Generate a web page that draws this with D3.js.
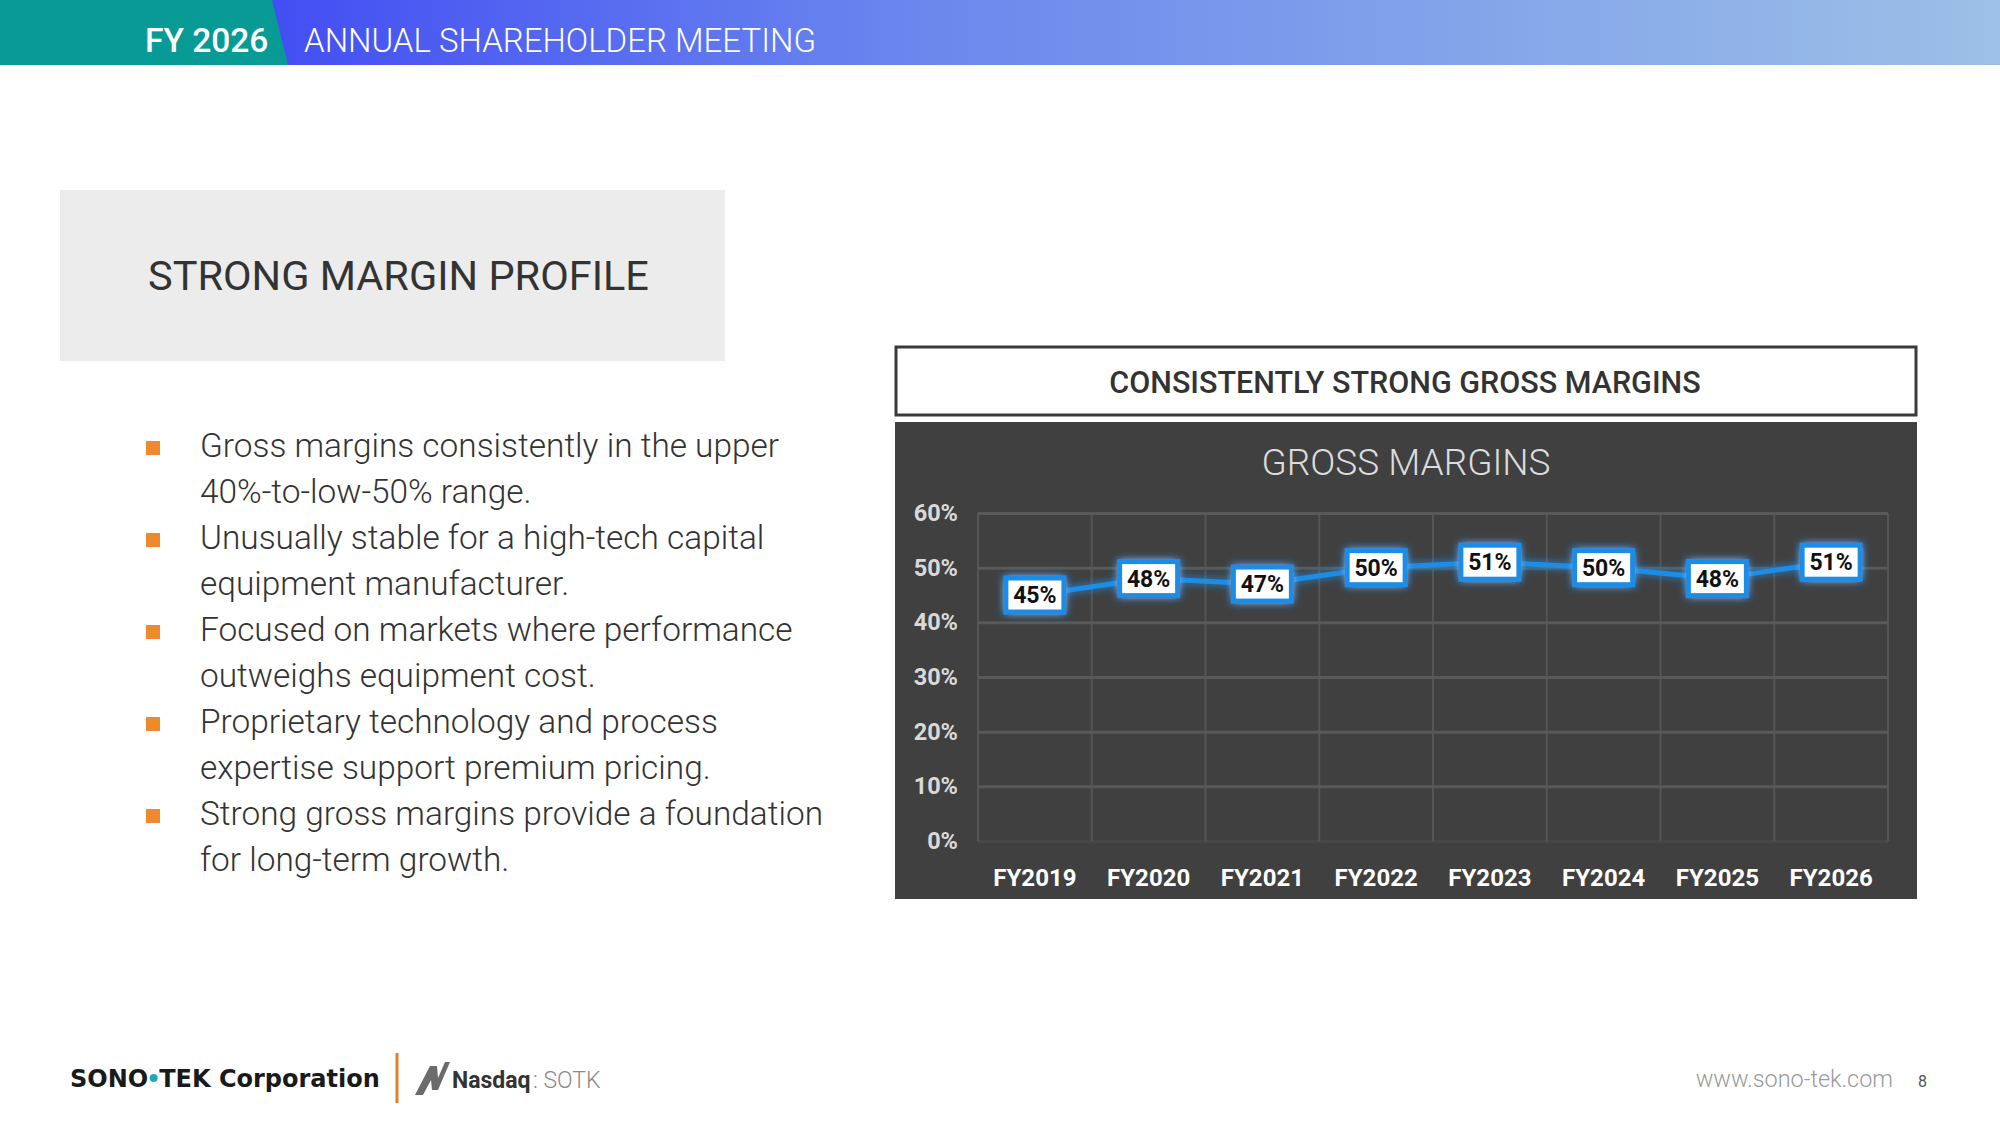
<!DOCTYPE html>
<html>
<head>
<meta charset="utf-8">
<script src="https://cdn.jsdelivr.net/npm/d3@7"></script>
<style>
  html, body { margin: 0; padding: 0; background: #fff; }
  svg { display: block; font-family: Roboto, "Noto Sans", sans-serif; }
</style>
</head>
<body>
<svg id="slide" width="2000" height="1125"></svg>
<script>
"use strict";

// chart data
var categories = ["FY2019", "FY2020", "FY2021", "FY2022", "FY2023", "FY2024", "FY2025", "FY2026"];
var margins = [45, 48, 47, 50, 51, 50, 48, 51];
var yTicks = [0, 10, 20, 30, 40, 50, 60];

// slide text
var bullets = [
  ["Gross margins consistently in the upper", "40%-to-low-50% range."],
  ["Unusually stable for a high-tech capital", "equipment manufacturer."],
  ["Focused on markets where performance", "outweighs equipment cost."],
  ["Proprietary technology and process", "expertise support premium pricing."],
  ["Strong gross margins provide a foundation", "for long-term growth."]
];

var svg = d3.select("#slide");
var defs = svg.append("defs");

// header gradient
var grad = defs.append("linearGradient").attr("id", "hdr").attr("x1", "0").attr("x2", "1");
grad.append("stop").attr("offset", "0").attr("stop-color", "#3236f5");
grad.append("stop").attr("offset", "0.45").attr("stop-color", "#6a86ee");
grad.append("stop").attr("offset", "1").attr("stop-color", "#9cc0e6");

var glow = defs.append("filter").attr("id", "glow")
  .attr("x", "-30%").attr("y", "-60%").attr("width", "160%").attr("height", "220%");
glow.append("feGaussianBlur").attr("in", "SourceGraphic").attr("stdDeviation", 4).attr("result", "b");
var merge = glow.append("feMerge");
merge.append("feMergeNode").attr("in", "b");
merge.append("feMergeNode").attr("in", "SourceGraphic");

// ---- header bar
svg.append("rect").attr("x", 0).attr("y", 0).attr("width", 2000).attr("height", 65).attr("fill", "url(#hdr)");
svg.append("path").attr("d", "M0,0L272,0L288,65L0,65Z").attr("fill", "#089b96");
svg.append("text").attr("x", 145).attr("y", 52).attr("fill", "#fff")
  .attr("font-size", 33.5).attr("font-weight", 500).text("FY 2026");
svg.append("text").attr("x", 304).attr("y", 52).attr("fill", "#fff")
  .attr("font-size", 33).attr("font-weight", 300).text("ANNUAL SHAREHOLDER MEETING");

// ---- left side
svg.append("rect").attr("x", 60).attr("y", 190).attr("width", 665).attr("height", 171).attr("fill", "#ececec");
svg.append("text").attr("x", 148).attr("y", 290).attr("fill", "#333")
  .attr("font-size", 41.5).text("STRONG MARGIN PROFILE");

var bl = svg.append("g").selectAll("g").data(bullets).join("g")
  .attr("transform", function(d, i) { return "translate(0," + (457 + i * 92) + ")"; });
bl.append("rect").attr("x", 146).attr("y", -16).attr("width", 14).attr("height", 14).attr("fill", "#ee8a2c");
bl.selectAll("text").data(function(d) { return d; }).join("text")
  .attr("x", 200).attr("y", function(d, i) { return i * 46; })
  .attr("fill", "#333").attr("font-size", 33.4).attr("font-weight", 300)
  .text(function(d) { return d; });

// ---- chart heading box
svg.append("rect").attr("x", 896).attr("y", 347).attr("width", 1020).attr("height", 68)
  .attr("fill", "#fff").attr("stroke", "#3a3a3a").attr("stroke-width", 3);
svg.append("text").attr("x", 1405).attr("y", 393).attr("text-anchor", "middle").attr("fill", "#333")
  .attr("font-size", 30.5).attr("font-weight", 500).text("CONSISTENTLY STRONG GROSS MARGINS");

// ---- chart panel
svg.append("rect").attr("x", 895).attr("y", 422).attr("width", 1022).attr("height", 477).attr("fill", "#404040");
svg.append("text").attr("x", 1406).attr("y", 475).attr("text-anchor", "middle").attr("fill", "#dcdcdc")
  .attr("font-size", 37).attr("font-weight", 300).text("GROSS MARGINS");

var x = d3.scaleBand().domain(categories).range([978, 1888]);
var y = d3.scaleLinear().domain([0, 60]).range([841, 513]);

var chart = svg.append("g");

// vertical grid at category boundaries
chart.append("g").selectAll("line").data(categories.concat([null])).join("line")
  .attr("x1", function(d) { return d ? x(d) : x.range()[1]; })
  .attr("x2", function(d) { return d ? x(d) : x.range()[1]; })
  .attr("y1", y(0)).attr("y2", y(60))
  .attr("stroke", "#555").attr("stroke-width", 2);

var yAxis = chart.append("g").attr("transform", "translate(978,0)")
  .call(d3.axisLeft(y).tickValues(yTicks).tickFormat(function(d) { return d + "%"; })
    .tickSize(-(x.range()[1] - x.range()[0])).tickPadding(20));
yAxis.select(".domain").remove();
yAxis.selectAll("line").attr("stroke", "#595959").attr("stroke-width", 3)
  .attr("stroke-opacity", function(d) { return d === 0 ? 0.3 : 1; });
yAxis.selectAll("text").attr("fill", "#d9d9d9").attr("font-size", 23.5).attr("font-weight", 700)
  .attr("font-family", "Roboto, sans-serif");

var xAxis = chart.append("g").attr("transform", "translate(0," + y(0) + ")")
  .call(d3.axisBottom(x).tickSize(0).tickPadding(28));
xAxis.select(".domain").remove();
xAxis.selectAll("text").attr("fill", "#fff").attr("font-size", 24).attr("font-weight", 700)
  .attr("font-family", "Roboto, sans-serif");

var pts = categories.map(function(c, i) { return [x(c) + x.bandwidth() / 2, y(margins[i])]; });

chart.append("path").datum(pts).attr("d", d3.line())
  .attr("fill", "none").attr("stroke", "#1e8de6").attr("stroke-width", 5)
  .attr("filter", "url(#glow)");

var lbl = chart.append("g").selectAll("g").data(margins).join("g")
  .attr("transform", function(d, i) { return "translate(" + pts[i][0] + "," + pts[i][1] + ")"; });
lbl.append("rect").attr("x", -29).attr("y", -17).attr("width", 58).attr("height", 34)
  .attr("fill", "#fff").attr("stroke", "#1e8de6").attr("stroke-width", 5).attr("filter", "url(#glow)");
lbl.append("text").attr("text-anchor", "middle").attr("dy", "0.36em")
  .attr("font-size", 23).attr("font-weight", 700).attr("fill", "#111")
  .text(function(d) { return d + "%"; });

// ---- footer
var ft = svg.append("g").attr("font-family", "'DejaVu Sans', Verdana, sans-serif");
var sono = ft.append("text").attr("x", 70).attr("y", 1087).attr("font-size", 24).attr("font-weight", 700)
  .attr("fill", "#1a1a1a").text("SONO");
var sonoEnd = 70 + sono.node().getComputedTextLength();
ft.append("circle").attr("cx", sonoEnd + 5.5).attr("cy", 1078).attr("r", 4).attr("fill", "#22a7b8");
ft.append("text").attr("x", sonoEnd + 11).attr("y", 1087).attr("font-size", 24).attr("font-weight", 700)
  .attr("fill", "#1a1a1a").text("TEK Corporation");
ft.append("line").attr("x1", 397).attr("x2", 397).attr("y1", 1053).attr("y2", 1103)
  .attr("stroke", "#e0802a").attr("stroke-width", 3);
ft.append("path").attr("d", "M415,1095L430,1066L437,1066L438,1078L445,1062L450,1062L438,1090L432,1090L431,1080L423,1095Z")
  .attr("fill", "#6b6b6b");
ft.append("text").attr("x", 452).attr("y", 1088).attr("font-size", 23).attr("font-weight", 700)
  .attr("font-family", "Roboto, sans-serif").attr("fill", "#333").text("Nasdaq");
ft.append("text").attr("x", 533).attr("y", 1088).attr("font-size", 23).attr("font-weight", 300)
  .attr("font-family", "Roboto, sans-serif").attr("fill", "#8a8a8a").text(": SOTK");
ft.append("text").attr("x", 1893).attr("y", 1087).attr("text-anchor", "end").attr("font-size", 23.4)
  .attr("font-family", "Roboto, sans-serif").attr("font-weight", 300).attr("fill", "#9a9a9a").text("www.sono-tek.com");
ft.append("text").attr("x", 1918).attr("y", 1087).attr("font-size", 16)
  .attr("font-family", "Roboto, sans-serif").attr("fill", "#555").text("8");
</script>
</body>
</html>
